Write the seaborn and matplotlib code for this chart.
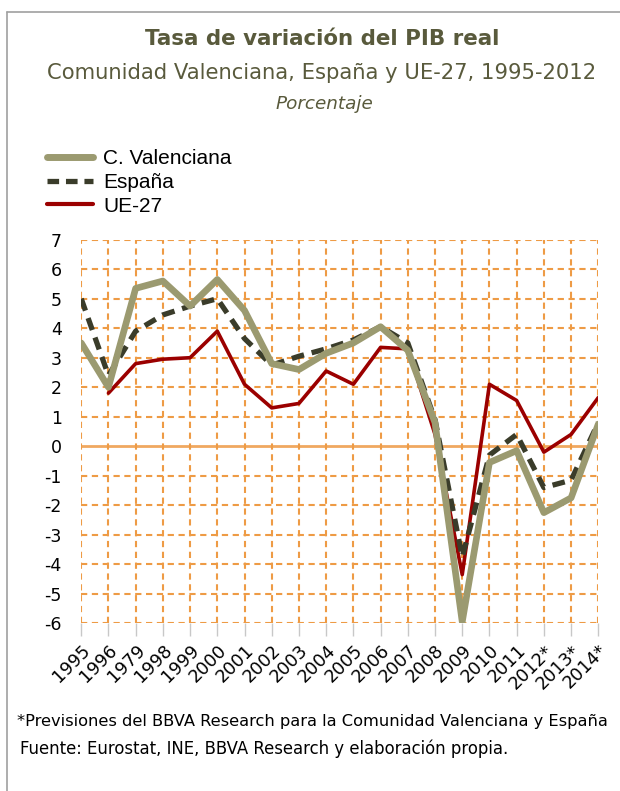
import numpy as np
import pandas as pd
import matplotlib.pyplot as plt
import seaborn as sns
from matplotlib.lines import Line2D

years = ["1995", "1996", "1979", "1998", "1999", "2000", "2001", "2002", "2003", "2004",
         "2005", "2006", "2007", "2008", "2009", "2010", "2011", "2012*", "2013*", "2014*"]
c_valenciana = [3.5, 2.0, 5.35, 5.6, 4.75, 5.65, 4.6, 2.8, 2.6, 3.15,
                3.5, 4.05, 3.25, 0.8, -5.95, -0.55, -0.15, -2.25, -1.75, 0.75]
espana = [5.0, 2.4, 3.9, 4.45, 4.75, 5.0, 3.65, 2.75, 3.05, 3.3,
          3.6, 4.05, 3.5, 0.9, -3.75, -0.3, 0.4, -1.4, -1.15, 0.8]
ue27 = [np.nan, 1.8, 2.8, 2.95, 3.0, 3.9, 2.1, 1.3, 1.45, 2.55,
        2.1, 3.35, 3.3, 0.4, -4.35, 2.1, 1.55, -0.2, 0.4, 1.65]

df = pd.DataFrame({"pos": np.arange(len(years)), "year": years,
                   "C. Valenciana": c_valenciana, "España": espana, "UE-27": ue27})

sns.set_style("white")
plt.rcParams["font.family"] = ["DejaVu Sans"]
plt.rcParams["axes.unicode_minus"] = False
plt.rcParams["text.color"] = "black"
plt.rcParams["xtick.labelcolor"] = "black"
plt.rcParams["ytick.labelcolor"] = "black"

fig = plt.figure(figsize=(6.2, 7.91), dpi=100)
ax = fig.add_axes([0.131, 0.212, 0.834, 0.485])

grid_col = "#EE9B45"
ax.set_ylim(-6, 7)
ax.set_xlim(0, len(years) - 1)
ax.set_yticks(range(-6, 8))
ax.set_xticks(df["pos"])
for v in range(-6, 8):
    if v == 0:
        ax.axhline(0, color="#F0A860", lw=2, zorder=1)
    else:
        ax.axhline(v, color=grid_col, lw=1.5, ls=(0, (3, 2.2)), zorder=1)
for p in df["pos"]:
    ax.axvline(p, color=grid_col, lw=1.5, ls=(0, (3, 2.2)), zorder=1)

sns.lineplot(data=df, x="pos", y="UE-27", ax=ax, color="#9B0000", lw=2.6, zorder=3)
sns.lineplot(data=df, x="pos", y="España", ax=ax, color="#3A3C2A", lw=3.8, zorder=4,
             dashes=False, linestyle=(0, (2.4, 1.5)))
sns.lineplot(data=df, x="pos", y="C. Valenciana", ax=ax, color="#9B9A70", lw=4.8, zorder=5)

for s in ax.spines.values():
    s.set_visible(False)
ax.set_xlabel("")
ax.set_ylabel("")
ax.set_xticklabels(years, rotation=45, ha="right", rotation_mode="anchor", fontsize=12.8)
ax.tick_params(axis="x", length=9, color="#C8C8C8", width=1, bottom=True, pad=4)
ax.tick_params(axis="y", length=0, labelsize=12.5, pad=14)

handles = [Line2D([], [], color="#9B9A70", lw=5),
           Line2D([], [], color="#3A3C2A", lw=3.8, ls=(0, (2.2, 1.3))),
           Line2D([], [], color="#9B0000", lw=3)]
fig.legend(handles, ["C. Valenciana", "España", "UE-27"], loc="upper left",
           bbox_to_anchor=(0.076, 0.811), borderaxespad=0, borderpad=0,
           frameon=False, handlelength=2.2, handletextpad=0.5, labelspacing=0.22,
           prop={"family": "Liberation Sans", "size": 15})

title_col = "#595A3C"
fig.text(0.52, 0.951, "Tasa de variación del PIB real", ha="center", va="center",
         fontsize=15.4, fontweight="bold", color=title_col)
fig.text(0.518, 0.908, "Comunidad Valenciana, España y UE-27, 1995-2012", ha="center",
         va="center", fontsize=15.2, color=title_col)
fig.text(0.523, 0.869, "Porcentaje", ha="center", va="center", fontsize=13.2,
         style="italic", color=title_col)

fig.text(0.027, 0.088, "*Previsiones del BBVA Research para la Comunidad Valenciana y España",
         ha="left", va="center", fontsize=11.7, color="black")
fig.text(0.032, 0.053, "Fuente: Eurostat, INE, BBVA Research y elaboración propia.",
         ha="left", va="center", fontsize=11.9, color="black")

# frame round the chart
fig.add_artist(Line2D([7 / 620, 7 / 620], [0, 1 - 12 / 791], color="#A0A0A0", lw=1.2))
fig.add_artist(Line2D([7 / 620, 1], [1 - 12 / 791, 1 - 12 / 791], color="#A0A0A0", lw=1.2))

fig.savefig("out.png", dpi=100)
